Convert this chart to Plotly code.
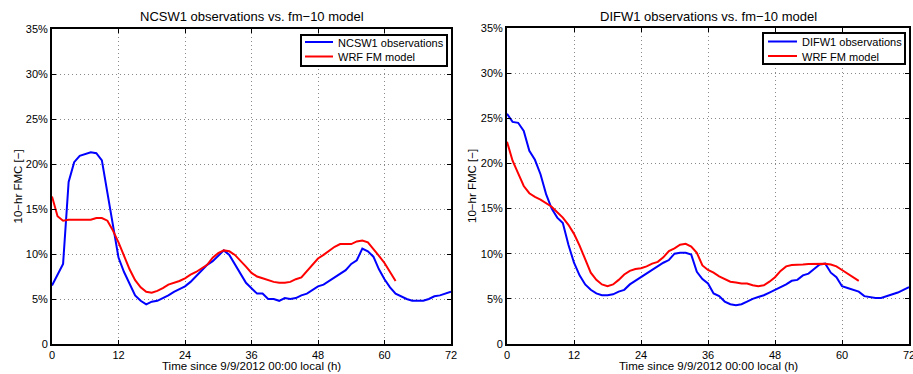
import plotly.graph_objects as go

# ---------------- data ----------------
hours_ncsw1_obs = list(range(0, 73))
ncsw1_obs = [6.5, 7.7, 8.9, 18.0, 20.2, 20.9, 21.1, 21.3, 21.2, 20.4,
             16.8, 13.0, 9.6, 8.0, 6.6, 5.4, 4.8, 4.4, 4.7, 4.8,
             5.1, 5.4, 5.8, 6.1, 6.4, 6.9, 7.5, 8.1, 8.8, 9.2,
             9.8, 10.4, 9.9, 8.9, 7.8, 6.8, 6.2, 5.6, 5.6, 5.0,
             5.0, 4.8, 5.1, 5.0, 5.1, 5.4, 5.6, 6.0, 6.4, 6.6,
             7.0, 7.4, 7.8, 8.2, 8.9, 9.3, 10.6, 10.3, 9.7, 8.3,
             7.2, 6.3, 5.6, 5.3, 5.0, 4.8, 4.8, 4.8, 5.0, 5.3,
             5.4, 5.6, 5.8]

hours_ncsw1_model = list(range(0, 63))
ncsw1_model = [16.4, 14.2, 13.7, 13.8, 13.8, 13.8, 13.8, 13.8, 14.0, 14.0,
               13.7, 12.6, 11.3, 9.8, 8.3, 7.1, 6.3, 5.8, 5.7, 5.9,
               6.2, 6.6, 6.8, 7.0, 7.3, 7.7, 8.0, 8.4, 8.8, 9.6,
               10.1, 10.4, 10.3, 9.9, 9.3, 8.6, 7.9, 7.5, 7.3, 7.1,
               6.9, 6.8, 6.8, 6.9, 7.2, 7.4, 8.1, 8.9, 9.5, 9.9,
               10.3, 10.8, 11.1, 11.1, 11.1, 11.4, 11.5, 11.3, 10.6, 9.8,
               9.0, 8.0, 7.0]

hours_difw1_obs = list(range(0, 73))
difw1_obs = [25.5, 24.6, 24.5, 23.6, 21.4, 20.4, 18.8, 16.6, 15.0, 14.0,
             13.4, 11.0, 9.0, 7.6, 6.6, 6.0, 5.6, 5.4, 5.4, 5.5,
             5.8, 6.0, 6.6, 7.0, 7.4, 7.8, 8.2, 8.6, 9.0, 9.3,
             10.0, 10.1, 10.1, 9.9, 8.0, 7.2, 6.7, 5.6, 5.3, 4.7,
             4.4, 4.3, 4.4, 4.7, 5.0, 5.2, 5.4, 5.7, 6.0, 6.3,
             6.6, 7.0, 7.1, 7.6, 7.8, 8.3, 8.8, 8.9, 7.9, 7.4,
             6.4, 6.2, 6.0, 5.8, 5.3, 5.2, 5.1, 5.1, 5.3, 5.5,
             5.7, 6.0, 6.3]

hours_difw1_model = list(range(0, 64))
difw1_model = [22.4, 20.3, 18.9, 17.5, 16.7, 16.3, 16.0, 15.6, 15.2, 14.6,
               14.0, 13.2, 12.2, 10.9, 9.4, 7.9, 7.1, 6.6, 6.4, 6.6,
               7.1, 7.7, 8.1, 8.3, 8.4, 8.6, 8.9, 9.1, 9.6, 10.3,
               10.6, 11.0, 11.1, 10.8, 10.1, 8.7, 8.2, 7.9, 7.5, 7.2,
               6.9, 6.8, 6.7, 6.7, 6.5, 6.4, 6.5, 6.9, 7.4, 8.1,
               8.6, 8.75, 8.75, 8.8, 8.85, 8.85, 8.9, 8.9, 8.8, 8.6,
               8.2, 7.8, 7.4, 7.0]

x_ticks = [0, 12, 24, 36, 48, 60, 72]
y_ticks = [0, 5, 10, 15, 20, 25, 30, 35]
y_ticktext = ["0", "5%", "10%", "15%", "20%", "25%", "30%", "35%"]

titles = ["NCSW1 observations vs. fm\u221210 model",
          "DIFW1 observations vs. fm\u221210 model"]
obs_names = ["NCSW1 observations", "DIFW1 observations"]
model_name = "WRF FM model"
x_title = "Time since 9/9/2012 00:00 local (h)"
y_title = "10\u2212hr FMC [\u2212]"

# ---------------- layout helpers ----------------
W, H = 913, 374
FONT = "Liberation Sans, Arial, Helvetica, sans-serif"
BLUE = "#0000ff"
RED = "#ff0000"

def fx(p):
    return p / W

def fy(p):
    return 1 - p / H

panels = [
    dict(x0=52, x1=451, y0=29, y1=344, ytitle_x=17,
         leg=(301, 35, 447, 66), line_x=(305, 333), row_y=(42, 56.5), text_x=336),
    dict(x0=507, x1=909, y0=28, y1=344, ytitle_x=472,
         leg=(763, 33, 905, 64), line_x=(768, 797), row_y=(41.5, 56), text_x=800),
]

fig = go.Figure()
series = [(hours_ncsw1_obs, ncsw1_obs, hours_ncsw1_model, ncsw1_model),
          (hours_difw1_obs, difw1_obs, hours_difw1_model, difw1_model)]

annotations = []
shapes = []
for i, (p, (ho, vo, hm, vm)) in enumerate(zip(panels, series)):
    sfx = "" if i == 0 else str(i + 1)
    fig.add_trace(go.Scatter(x=ho, y=vo, mode="lines", name=obs_names[i],
                             line=dict(color=BLUE, width=2), showlegend=False,
                             xaxis="x" + sfx, yaxis="y" + sfx))
    fig.add_trace(go.Scatter(x=hm, y=vm, mode="lines", name=model_name,
                             line=dict(color=RED, width=2), showlegend=False,
                             xaxis="x" + sfx, yaxis="y" + sfx))
    axcommon = dict(showline=True, linecolor="black", linewidth=2, mirror="ticks",
                    ticks="inside", ticklen=4, tickcolor="black", tickwidth=1,
                    showgrid=True, gridcolor="#8a8a8a", griddash="1px,3px", gridwidth=1,
                    zeroline=False, automargin=False, ticklabeloverflow="allow",
                    tickfont=dict(family=FONT, size=11, color="black"))
    fig.update_layout(**{
        "xaxis" + sfx: dict(domain=[fx(p["x0"]), fx(p["x1"])], range=[0, 72],
                            tickmode="array", tickvals=x_ticks,
                            anchor="y" + sfx, **axcommon),
        "yaxis" + sfx: dict(domain=[fy(p["y1"]), fy(p["y0"])], range=[0, 35],
                            tickmode="array", tickvals=y_ticks, ticktext=y_ticktext,
                            anchor="x" + sfx, **axcommon),
    })
    cx = (p["x0"] + p["x1"]) / 2
    annotations.append(dict(text=titles[i], x=fx(cx), y=fy(17), xref="paper", yref="paper",
                            xanchor="center", yanchor="middle", showarrow=False,
                            font=dict(family=FONT, size=13, color="black")))
    annotations.append(dict(text=x_title, x=fx(cx), y=fy(366), xref="paper", yref="paper",
                            xanchor="center", yanchor="middle", showarrow=False,
                            font=dict(family=FONT, size=11.5, color="black")))
    annotations.append(dict(text=y_title, x=fx(p["ytitle_x"]), y=fy((p["y0"] + p["y1"]) / 2),
                            xref="paper", yref="paper", textangle=-90,
                            xanchor="center", yanchor="middle", showarrow=False,
                            font=dict(family=FONT, size=11.5, color="black")))
    # legend box (drawn manually to match the compact MATLAB legend)
    lx0, ly0, lx1, ly1 = p["leg"]
    shapes.append(dict(type="rect", xref="paper", yref="paper",
                       x0=fx(lx0), x1=fx(lx1), y0=fy(ly1), y1=fy(ly0),
                       line=dict(color="black", width=2), fillcolor="white", layer="above"))
    for name, col, ry in [(obs_names[i], BLUE, p["row_y"][0]), (model_name, RED, p["row_y"][1])]:
        shapes.append(dict(type="line", xref="paper", yref="paper",
                           x0=fx(p["line_x"][0]), x1=fx(p["line_x"][1]), y0=fy(ry), y1=fy(ry),
                           line=dict(color=col, width=2), layer="above"))
        annotations.append(dict(text=name, x=fx(p["text_x"]), y=fy(ry + 0.5), xref="paper", yref="paper",
                                xanchor="left", yanchor="middle", showarrow=False,
                                font=dict(family=FONT, size=11, color="black")))

fig.update_layout(width=W, height=H, margin=dict(l=0, r=0, t=0, b=0),
                  paper_bgcolor="white", plot_bgcolor="white",
                  annotations=annotations, shapes=shapes, showlegend=False)

fig.write_html("out.html")
